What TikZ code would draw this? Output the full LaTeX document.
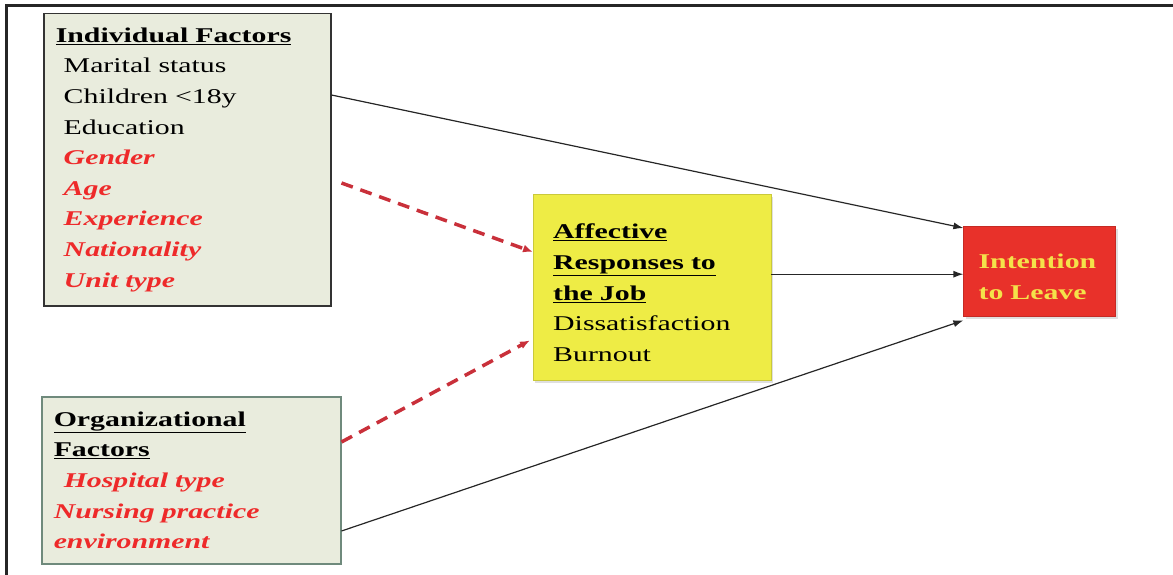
\documentclass[tikz,border=0pt]{standalone}
\usepackage{fontspec}
\setmainfont[FakeStretch=1.42]{Liberation Serif}
\usetikzlibrary{positioning,shadows,arrows.meta}

\definecolor{factorfill}{HTML}{E9ECDD}
\definecolor{factorred}{HTML}{EE2A2A}
\definecolor{orgline}{HTML}{6F8A7C}
\definecolor{dashred}{HTML}{C9303A}
\definecolor{jobyellow}{HTML}{EEEC45}
\definecolor{leavered}{HTML}{E8312A}
\definecolor{leavetext}{HTML}{F4E24A}

\newcommand{\hd}[1]{\textbf{\underline{#1}}}
\newcommand{\rd}[1]{\textcolor{factorred}{\textbf{\textit{#1}}}}

\begin{document}
\begin{tikzpicture}[x=1pt,y=-1pt]
\tikzstyle{box}=[rectangle, align=left, inner ysep=0pt, anchor=north west, font=\fontsize{21}{30.6}\selectfont]
\tikzstyle{factor}=[box, fill=factorfill, inner xsep=12pt]
\tikzstyle{connect}=[-{Latex[length=10pt,width=7pt]}, line width=1.2pt, black!85]
\tikzstyle{dashconnect}=[-{Latex[length=10pt,width=8pt]}, dashred, line width=3.5pt, dash pattern=on 12pt off 8pt]
\useasboundingbox (0,0) rectangle (1173,575);
\draw[line width=3pt, black!85] (1173,6) -- (6,6) -- (6,575);
\node[factor, draw=black!80, line width=1.5pt, text width=263pt, minimum height=292pt] (indiv) at (43,13)
  {\hd{Individual Factors}\\
   \hspace*{8pt}Marital status\\
   \hspace*{8pt}Children <18y\\
   \hspace*{8pt}Education\\
   \hspace*{8pt}\rd{Gender}\\
   \hspace*{8pt}\rd{Age}\\
   \hspace*{8pt}\rd{Experience}\\
   \hspace*{8pt}\rd{Nationality}\\
   \hspace*{8pt}\rd{Unit type}};
\node[factor, draw=orgline, line width=1.5pt, text width=275pt, minimum height=167pt] (org) at (41,396)
  {\hd{Organizational}\\
   \hd{Factors}\\
   \hspace*{10pt}\rd{Hospital type}\\
   \rd{Nursing practice}\\
   \rd{environment}};
\node[box, fill=jobyellow, draw=jobyellow!85!black, inner xsep=20pt, text width=198pt, minimum height=186pt,
  drop shadow={shadow xshift=2pt, shadow yshift=-3pt, fill=black!25}] (affect) at (533,194)
  {\rule{0pt}{26pt}\hd{Affective}\\
   \hd{Responses to}\\
   \hd{the Job}\\
   Dissatisfaction\\
   Burnout};
\node[box, anchor=west, fill=leavered, draw=leavered!85!black, inner xsep=15pt, text width=122pt, minimum height=90pt,
  text=leavetext, font=\fontsize{21}{30.6}\selectfont\bfseries,
  drop shadow={shadow xshift=2pt, shadow yshift=-3pt, fill=black!25}] (intent) [right=192pt of affect, yshift=16pt]
  {\rule{0pt}{26pt}Intention\\ to Leave};
\path ([yshift=-82pt]indiv.north east) edge [connect] ([yshift=-2pt]intent.north west);
\path ([xshift=10pt,yshift=-170pt]indiv.north east) edge [dashconnect] ([yshift=-58pt]affect.north west);
\path ([yshift=-46pt]org.north east) edge [dashconnect] ([xshift=-3pt,yshift=40pt]affect.south west);
\path ([yshift=13pt]affect.east) edge [connect] ([yshift=-3pt]intent.west);
\path ([yshift=-135pt]org.north east) edge [connect] ([yshift=-4pt]intent.south west);
\end{tikzpicture}
\end{document}
